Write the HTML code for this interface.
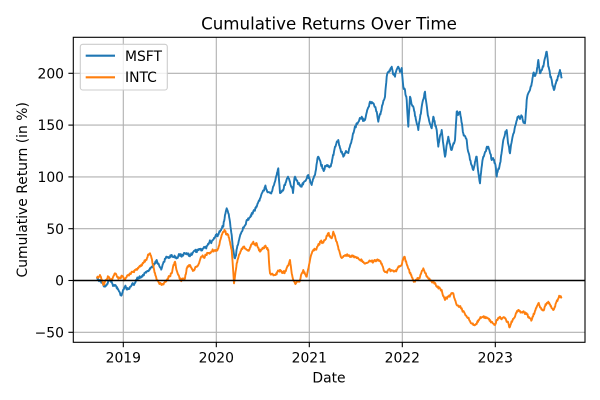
<!DOCTYPE html>
<html>
<head>
<meta charset="utf-8">
<style>
html,body{margin:0;padding:0;background:#fff;}
svg{display:block;}
text{font-family:"DejaVu Sans","Liberation Sans",sans-serif;fill:#000;}
</style>
</head>
<body>
<svg width="600" height="400" viewBox="0 0 600 400" xmlns="http://www.w3.org/2000/svg">
<rect x="0" y="0" width="600" height="400" fill="#fff"/>
<!-- grid -->
<g stroke="#b0b0b0" stroke-width="1.1" fill="none">
<line x1="123.3" y1="37.3" x2="123.3" y2="342.3"/>
<line x1="216.3" y1="37.3" x2="216.3" y2="342.3"/>
<line x1="309.3" y1="37.3" x2="309.3" y2="342.3"/>
<line x1="402.3" y1="37.3" x2="402.3" y2="342.3"/>
<line x1="495.3" y1="37.3" x2="495.3" y2="342.3"/>
<line x1="73.3" y1="73.3" x2="585" y2="73.3"/>
<line x1="73.3" y1="125.1" x2="585" y2="125.1"/>
<line x1="73.3" y1="176.9" x2="585" y2="176.9"/>
<line x1="73.3" y1="228.7" x2="585" y2="228.7"/>
<line x1="73.3" y1="280.5" x2="585" y2="280.5"/>
<line x1="73.3" y1="332.3" x2="585" y2="332.3"/>
</g>
<!-- MSFT -->
<polyline id="msft" fill="none" stroke="#1f77b4" stroke-width="1.9" stroke-linejoin="round" points="96.7,277.3 100,280 103,284 105,286.7 108,282 110,280 113,286 115,285 118,289 120,293 121.7,295 123,290 125,286.7 128,289 131.7,285 135,283 138.3,278.3 142,276 146.7,271.7 149,270 151.7,266.7 154,264 156.7,260 159,265 161.7,268.3 164,262 166.7,256.7 169,258 171.7,255 174,257 176,258 179,254 181.7,256.7 184,253 186,254 189,256 191.7,255 194,251 196,252 199,249 201.7,250 204,247 206.7,246 209,243 211.7,241.7 214,238 216.7,234 218,235 220,231.7 222,228 223.3,226.7 225,215 226.7,208.3 228.3,213.3 230,222 231.7,235 233,248 235,258.3 236.5,250 238.3,243.3 240,236 241.7,231.7 244,227 246.7,220 249,218 251.7,213.3 254,210 256.7,206.7 258,203 260,198.3 262,193 265,186.7 268,192 271.7,191.7 274,185 276.7,175 278.3,168.3 279,180 280,193 283.3,190 286,182 288,176.7 290,182 291.7,186.7 293,193 295,176.7 298,184 301.7,186.7 304,182 306,180 308.3,175 310,180 311.7,185 313,179 315,175 317,162 318.3,156.7 321,165 323.3,170 325,166 327,165 329,167 331.7,163 333,155 335,146.7 338.3,140 340,148 343.3,156.7 346,151 348.3,153 350,146 351.7,140 354,131 356.7,123.3 359,121 361.7,116.7 363,121 365,120 368,108 370,101.7 373.3,103.3 375,107 376.7,111.7 378.3,121.7 380,114 381.7,108.3 383,103 385,96.7 386.7,76.7 389,72 391.7,66.7 393,74 395,76.7 396.5,70 398.3,66.7 400,72 401.7,68 403.3,86.7 405,90 406.7,100 408.3,126.7 410,96.7 411.5,104 413.3,106.7 415,116 416.7,123.3 418.3,130 420,118 421.7,106.7 423,100 425,91.7 426.5,104 428.3,116.7 430,124 431.7,128.3 433.3,116.7 435,124 436.7,130 438.3,146.7 440,136 441.7,130 443,142 445,156.7 446.5,146 448.3,136.7 450,144 451.7,150 453,145 455,140 456.7,111.7 458,115 460,111.7 462,124 463.3,133.3 465,136 466.7,140 468,151 470,160 471.5,165 473.3,170 475,162 476.7,156.7 478,170 480,183.3 481.5,168 483.3,156.7 486,151 488.3,146.7 490,153 491.7,160 493,158 495,163.3 496.7,176.7 498,170 500,163.3 502,150 503.3,140 505,134 506.7,130 508,143 510,153.3 512,140 515,126.7 516.5,121 518.3,116.7 520,119 521.7,116.7 523,121 525,123.3 526.7,100 528,94 530,90 531.7,83.3 533.3,73.3 535,76 536.7,71.7 538.3,60 540,73.3 541.5,70 543.3,66.7 545,58 546.7,51.7 548.3,66.7 550,74 551.7,80 553,86 554,90 555.5,84 556.7,80 558,76 560,70 561.7,78.3"/>
<!-- INTC -->
<polyline id="intc" fill="none" stroke="#ff7f0e" stroke-width="1.9" stroke-linejoin="round" points="96.7,276.7 98,278 100,275 102,280 103.3,285 106,280 108.3,276.7 110,279 112,280 113.5,276 115,273.3 117.5,277 120,278.3 122.5,276 125,280 128,275 131.7,271.7 135,270 138.3,268.3 141,266 145,261.7 147,258 149,254 150,253.3 151.5,258 153.3,265 155,273 156.7,280 159,283 161.7,285 164,283 166.7,280 169,276 171.7,273.3 173,267 175,261.7 176.5,270 178.3,275 180,279 181.7,280 183,279 185,278.3 186.7,268.3 188,266 190,265 191.5,268 193.3,270 196,267 198.3,265 200,260 201.7,256.7 204,257 206.7,255 209,253 211.7,251.7 215,250 218.3,248.3 220,241 221.7,235 223,232 225,231.7 226.5,234 228.3,235 230,242 231.7,250 233,268 234,283.3 235.5,272 236.7,263.3 238.5,257 240,253.3 241.5,249 243.3,246.7 246,249 248.3,250 251,245 253.3,241.7 255,244 256.7,243.3 258.5,248 260,251.7 262.5,248 265,246.7 267,249 268.3,250 269,262 270,273.3 272.5,274 275,275 277.5,272 280,270 282.5,272 285,271.7 287.5,266 290,260 291.7,273.3 293,279 295,283.3 297.5,281 300,280 301.5,274 303.3,270 305,274 306.7,276.7 308.5,268 310,260 311.5,254 313.3,250 315,249 316.7,248.3 318.5,244 320,241.7 322.5,242 325,240 326.5,236 328.3,233.3 330,236 331.7,238.3 333.3,231.7 335,236 336.7,241.7 339,250 341.7,258 344,256 346.7,255 350,257 353.3,256.7 356.5,258 360,260 363.5,262 366.7,263 370,261 373.3,262 376.5,260 380,261 382.5,266 385,272 387.5,271 390,270 393.5,271 396.7,270 399,267 401.7,265 403,260 404.3,256.7 407,265 410,273.3 412.5,278 415,281.7 417.5,278 420,276.7 421.5,272 423.3,268.3 425,273 426.7,276.7 429,279 431.7,281.7 434,283 436.7,286.7 439,288 441.7,290 443.5,296 445,300 446.5,298 448,297 451,294 453.3,293.3 455,300 456.7,305 459,307 461.7,308.3 464,312 466.7,316.7 470,321 473.3,325 475,325 476.7,324 478.5,320 480,318.3 482.5,317 485,316.7 487.5,318 490,320 492.5,323 495,325 497.5,320 500,316.7 502.5,318 505,318.3 507.5,322 510,326.7 512,322 514,318 516,313 518.3,310 520,311 522,312 524.5,313 526.7,313.3 529,317 531.7,320 535,311 538.3,303.3 541,308 543.3,310 546,305 548.3,301.7 551,306 553.3,310 556,303 558.3,298.3 560,297 561.7,298.3"/>
<!-- zero line -->
<line x1="73.3" y1="280.5" x2="585" y2="280.5" stroke="#000" stroke-width="1.4"/>
<!-- spines -->
<rect x="73.3" y="37.3" width="511.7" height="305" fill="none" stroke="#000" stroke-width="1.1"/>
<!-- ticks -->
<g stroke="#000" stroke-width="1.1">
<line x1="123.3" y1="342.3" x2="123.3" y2="347.2"/>
<line x1="216.3" y1="342.3" x2="216.3" y2="347.2"/>
<line x1="309.3" y1="342.3" x2="309.3" y2="347.2"/>
<line x1="402.3" y1="342.3" x2="402.3" y2="347.2"/>
<line x1="495.3" y1="342.3" x2="495.3" y2="347.2"/>
<line x1="68.4" y1="73.3" x2="73.3" y2="73.3"/>
<line x1="68.4" y1="125.1" x2="73.3" y2="125.1"/>
<line x1="68.4" y1="176.9" x2="73.3" y2="176.9"/>
<line x1="68.4" y1="228.7" x2="73.3" y2="228.7"/>
<line x1="68.4" y1="280.5" x2="73.3" y2="280.5"/>
<line x1="68.4" y1="332.3" x2="73.3" y2="332.3"/>
</g>
<g font-size="13.9" text-anchor="middle">
<text x="123.3" y="362.5">2019</text>
<text x="216.3" y="362.5">2020</text>
<text x="309.3" y="362.5">2021</text>
<text x="402.3" y="362.5">2022</text>
<text x="495.3" y="362.5">2023</text>
</g>
<g font-size="13.9" text-anchor="end">
<text x="64" y="78.4">200</text>
<text x="64" y="130.2">150</text>
<text x="64" y="182">100</text>
<text x="64" y="233.8">50</text>
<text x="64" y="285.6">0</text>
<text x="64" y="337.4">−50</text>
</g>
<text x="329" y="382.5" font-size="13.9" text-anchor="middle">Date</text>
<text transform="translate(27,189.8) rotate(-90)" font-size="13.9" text-anchor="middle">Cumulative Return (in %)</text>
<text x="329" y="29.3" font-size="16.67" text-anchor="middle">Cumulative Returns Over Time</text>
<!-- legend -->
<rect x="80.3" y="44.3" width="87" height="45.7" rx="2.5" ry="2.5" fill="#fff" fill-opacity="0.8" stroke="#cccccc" stroke-width="1.1"/>
<line x1="85.7" y1="55.7" x2="115" y2="55.7" stroke="#1f77b4" stroke-width="2.1"/>
<line x1="85.7" y1="77.3" x2="115" y2="77.3" stroke="#ff7f0e" stroke-width="2.1"/>
<text x="125" y="61" font-size="13.9">MSFT</text>
<text x="125" y="82" font-size="13.9">INTC</text>
</svg>
<script>
(function(){
  var seed = 12345;
  function rnd(){ seed = (seed * 1103515245 + 12345) % 2147483648; return seed / 2147483648; }
  function roughen(id, amp){
    var el = document.getElementById(id);
    if(!el) return;
    var raw = el.getAttribute('points').trim().split(/\s+/).map(function(p){var a=p.split(',');return [parseFloat(a[0]),parseFloat(a[1])];});
    var out = [];
    var walk = 0;
    for(var i=0;i<raw.length-1;i++){
      var a=raw[i], b=raw[i+1];
      var dx=b[0]-a[0];
      var n=Math.max(1,Math.round(Math.abs(dx)/0.45));
      for(var k=0;k<n;k++){
        var t=k/n;
        var x=a[0]+dx*t, y=a[1]+(b[1]-a[1])*t;
        walk = walk*0.6 + (rnd()-0.5)*amp;
        var j = (k===0)?0:walk + (rnd()-0.5)*amp*0.8;
        out.push(x.toFixed(2)+','+(y+j).toFixed(2));
      }
    }
    var l=raw[raw.length-1];
    out.push(l[0]+','+l[1]);
    el.setAttribute('points', out.join(' '));
  }
  roughen('msft', 2.2);
  roughen('intc', 1.8);
})();
</script>
</body>
</html>
